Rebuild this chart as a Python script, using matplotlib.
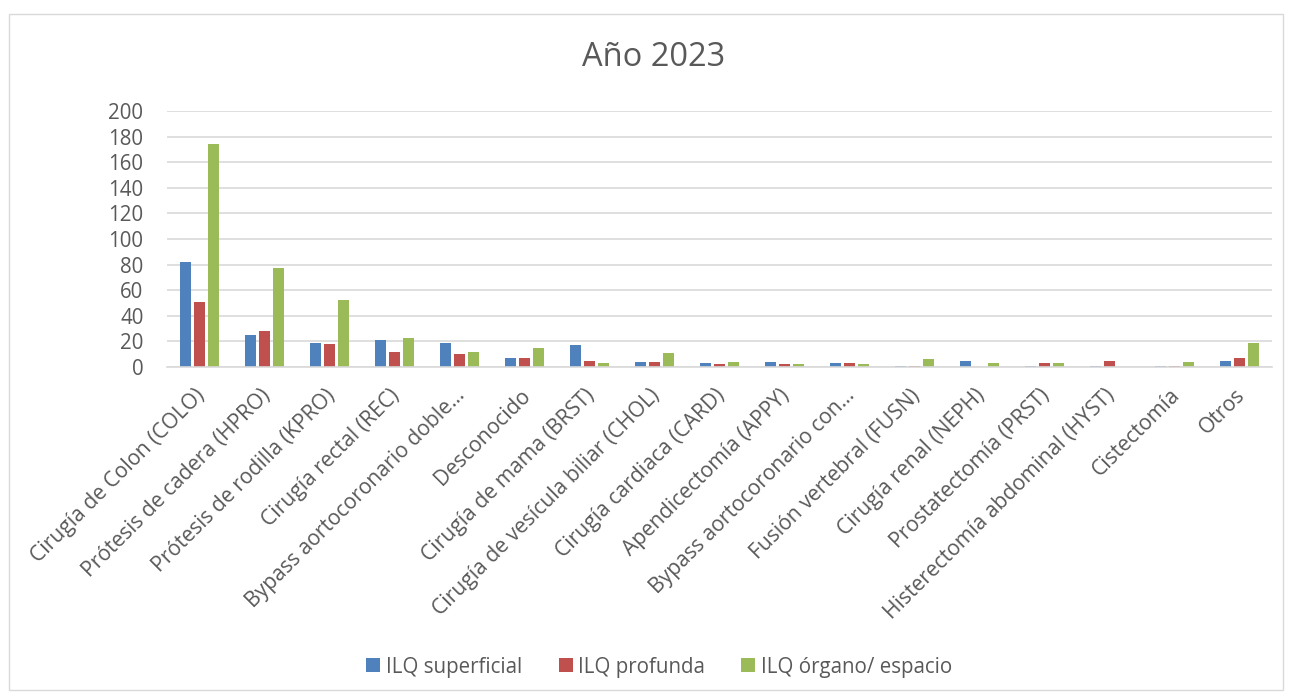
import numpy as np
import matplotlib.pyplot as plt
import matplotlib.transforms as mtransforms
from matplotlib.patches import Rectangle

plt.rcParams['font.family'] = ['Open Sans', 'DejaVu Sans']

# ====================================
# datos
# ====================================

categorias = [
    "Cirugía de Colon (COLO)",
    "Prótesis de cadera (HPRO)",
    "Prótesis de rodilla (KPRO)",
    "Cirugía rectal (REC)",
    "Bypass aortocoronario doble…",
    "Desconocido",
    "Cirugía de mama (BRST)",
    "Cirugía de vesícula biliar (CHOL)",
    "Cirugía cardiaca (CARD)",
    "Apendicectomía (APPY)",
    "Bypass aortocoronario con…",
    "Fusión vertebral (FUSN)",
    "Cirugía renal (NEPH)",
    "Prostatectomía (PRST)",
    "Histerectomía abdominal (HYST)",
    "Cistectomía",
    "Otros",
]

superficial = [82, 25, 19, 21, 19, 7, 17, 4, 3, 4, 3, 1, 5, 1, 1, 1, 5]
profunda = [51, 28, 18, 12, 10, 7, 5, 4, 2, 2, 3, 1, 0, 3, 5, 1, 7]
organo = [174, 77, 52, 23, 12, 15, 3, 11, 4, 2, 2, 6, 3, 3, 0, 4, 19]

series = ["ILQ superficial", "ILQ profunda", "ILQ órgano/ espacio"]
colores = ["#4f81bd", "#c0504d", "#9bbb59"]

# ====================================
# figura
# ====================================

fig = plt.figure(figsize=(12.89, 6.97), dpi=100)
ax = fig.add_axes([0.1296, 0.4734, 0.8572, 0.3673])

x = np.arange(len(categorias))
w = 0.17
gap = 0.045

for i, (vals, nombre, c) in enumerate(zip([superficial, profunda, organo], series, colores)):
    ax.bar(x + (i - 1) * (w + gap), vals, width=w, color=c, label=nombre)

ax.set_xlim(-0.5, len(categorias) - 0.5)
ax.set_ylim(0, 200)
ax.set_yticks(range(0, 201, 20))
ax.yaxis.grid(True, color="#d9d9d9", linewidth=1.2)
ax.set_axisbelow(True)

for s in ["top", "right", "left"]:
    ax.spines[s].set_visible(False)
ax.spines["bottom"].set_color("#d9d9d9")
ax.spines["bottom"].set_linewidth(1.2)

ax.tick_params(axis="y", length=0, labelsize=14.8, colors="#595959", pad=17)
ax.tick_params(axis="x", length=0, labelsize=15.2, colors="#595959", pad=13)
ax.set_xticks(x)
ax.set_xticklabels(categorias, rotation=45, ha="right", rotation_mode="anchor")

# pequeño desplazamiento a la izquierda de las etiquetas
offset = mtransforms.ScaledTranslation(-5 / 100, 0, fig.dpi_scale_trans)
for lbl in ax.get_xticklabels():
    lbl.set_transform(lbl.get_transform() + offset)

fig.text(0.5074, 0.917, "Año 2023", ha="center", va="center", fontsize=23.5, color="#595959")

ax.legend(loc="center", bbox_to_anchor=(0.5116, 0.043), bbox_transform=fig.transFigure,
          ncol=3, frameon=False, fontsize=14.8, handlelength=0.68, handleheight=0.68,
          columnspacing=1.75, handletextpad=0.29, labelcolor="#595959")

fig.patches.append(Rectangle((0.007, 0.01), 0.988, 0.97, transform=fig.transFigure,
                             fill=False, edgecolor="#d9d9d9", linewidth=1))

plt.savefig("out.png", dpi=100)
